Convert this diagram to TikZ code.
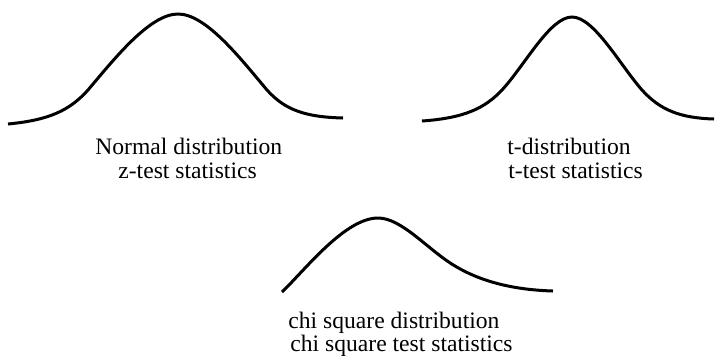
\documentclass[tikz,border=0pt]{standalone}
\usepackage{fontspec}
\setmainfont{Liberation Serif}

\begin{document}
\begin{tikzpicture}[
            x=0.5pt, y=-0.5pt,
            curve/.style={line width=1.5pt},
            caption/.style={anchor=base west, inner sep=0pt, font=\fontsize{11.8}{13}\selectfont}
        ]
        \useasboundingbox (0,0) rectangle (715,355);
        % normal curve
        \draw[curve] (8,124) .. controls (50,120) and (70,110) .. (88,90)
            .. controls (115,58) and (150,14) .. (178,14)
            .. controls (206,14) and (240,58) .. (267,90)
            .. controls (285,110) and (305,117) .. (343,118);
        % t curve
        \draw[curve] (422,121) .. controls (465,118) and (485,108) .. (502,90)
            .. controls (525,65) and (550,17) .. (572,17)
            .. controls (594,17) and (620,65) .. (642,90)
            .. controls (660,110) and (680,118) .. (714,119);
        % chi square curve
        \draw[curve] (282,292) .. controls (305,270) and (345,218) .. (378,218)
            .. controls (402,218) and (428,250) .. (455,266)
            .. controls (485,284) and (520,290) .. (553,291);
        \node[caption] (N1) at (95,154) {Normal distribution};
        \node[caption] (N2) at (118,178) {z-test statistics};
        \node[caption] (T1) at (507,154) {t-distribution};
        \node[caption] (T2) at (508,178) {t-test statistics};
        \node[caption] (C1) at (288,328) {chi square distribution};
        \node[caption] (C2) at (290,351) {chi square test statistics};
    \end{tikzpicture}
\end{document}
